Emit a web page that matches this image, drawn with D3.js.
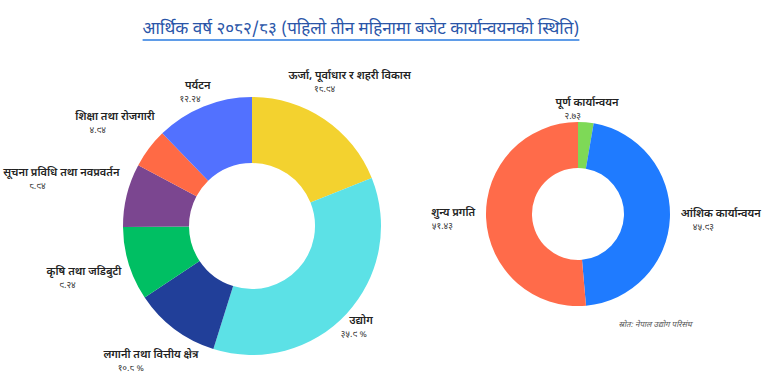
<!DOCTYPE html>
<html lang="ne">
<head>
<meta charset="UTF-8">
<title>बजेट कार्यान्वयन</title>
<script src="https://d3js.org/d3.v7.min.js"></script>
<style>
    body { margin: 0; background: #fff; }
    svg { display: block; font-family: "Noto Sans Devanagari", "Noto Sans", "Lohit Devanagari", sans-serif; }
    .lbl { font-size: 11px; font-weight: 600; fill: #222; }
    .val { font-size: 9px; fill: #333; }
</style>
</head>
<body>
<svg width="768" height="381"></svg>
<script>
    // left donut - sectors (slice sizes read from the ring)
    const sectors = ["ऊर्जा, पूर्वाधार र शहरी विकास", "उद्योग", "लगानी तथा वित्तीय क्षेत्र",
        "कृषि तथा जडिबुटी", "सूचना प्रविधि तथा नवप्रवर्तन", "शिक्षा तथा रोजगारी", "पर्यटन"];
    const sectorValues = [18.94, 35.9, 10.8, 9.24, 7.94, 4.94, 12.24];
    const sectorLabels = ["१८.९४", "३५.९ %", "१०.८ %", "९.२४", "८.९४", "४.९४", "१२.२४"];
    const sectorColors = ["#f3d22f", "#5ce1e6", "#213f99", "#00bf63", "#7b4690", "#ff6a45", "#5271ff"];

    // right donut - implementation status
    const status = ["पूर्ण कार्यान्वयन", "आंशिक कार्यान्वयन", "शुन्य प्रगति"];
    const statusValues = [2.73, 45.93, 51.43];
    const statusLabels = ["२.७३", "४५.९३", "५१.४३"];
    const statusColors = ["#7ed957", "#1f7bff", "#ff6b4a"];

    const title = "आर्थिक वर्ष २०८२/८३ (पहिलो तीन महिनामा बजेट कार्यान्वयनको स्थिति)";
    const source = "स्रोत: नेपाल उद्योग परिसंघ";

    const svg = d3.select("svg");

    // title with underline
    const titleText = svg.append("text")
        .attr("x", 361)
        .attr("y", 34)
        .attr("text-anchor", "middle")
        .attr("font-size", 17)
        .attr("fill", "#2a55a8")
        .text(title);
    const tb = titleText.node().getBBox();
    svg.append("line")
        .attr("x1", tb.x).attr("x2", tb.x + tb.width)
        .attr("y1", 40).attr("y2", 40)
        .attr("stroke", "#2a7be0")
        .attr("stroke-width", 1.5);

    function donut(names, values, labels, colors, cx, cy, outer, inner) {
        const g = svg.append("g").attr("transform", "translate(" + cx + "," + cy + ")");
        const pie = d3.pie().sort(null).value(d => d)(values);
        const arc = d3.arc().innerRadius(inner).outerRadius(outer);

        g.selectAll("path")
            .data(pie)
            .enter().append("path")
            .attr("d", arc)
            .attr("fill", (d, i) => colors[i]);

        // labels sit outside the ring, pushed out by half their width
        pie.forEach((d, i) => {
            const a = (d.startAngle + d.endAngle) / 2;
            const t = g.append("text")
                .attr("class", "lbl")
                .attr("text-anchor", "middle")
                .text(names[i]);
            const w = t.node().getComputedTextLength();
            const r = outer + 11 + Math.abs(Math.sin(a)) * w / 2;
            const x = Math.sin(a) * r;
            const y = -Math.cos(a) * r;
            t.attr("x", x).attr("y", y - 3);

            g.append("text")
                .attr("class", "val")
                .attr("text-anchor", "middle")
                .attr("x", x - 3 - 0.18 * w)
                .attr("y", y + 10)
                .text(labels[i]);
        });
    }

    donut(sectors, sectorValues, sectorLabels, sectorColors, 252, 226, 129, 63);
    donut(status, statusValues, statusLabels, statusColors, 578, 214, 92, 46);

    svg.append("text")
        .attr("x", 655)
        .attr("y", 327)
        .attr("text-anchor", "middle")
        .attr("font-size", 8)
        .attr("font-style", "italic")
        .attr("fill", "#555")
        .text(source);
</script>
</body>
</html>
